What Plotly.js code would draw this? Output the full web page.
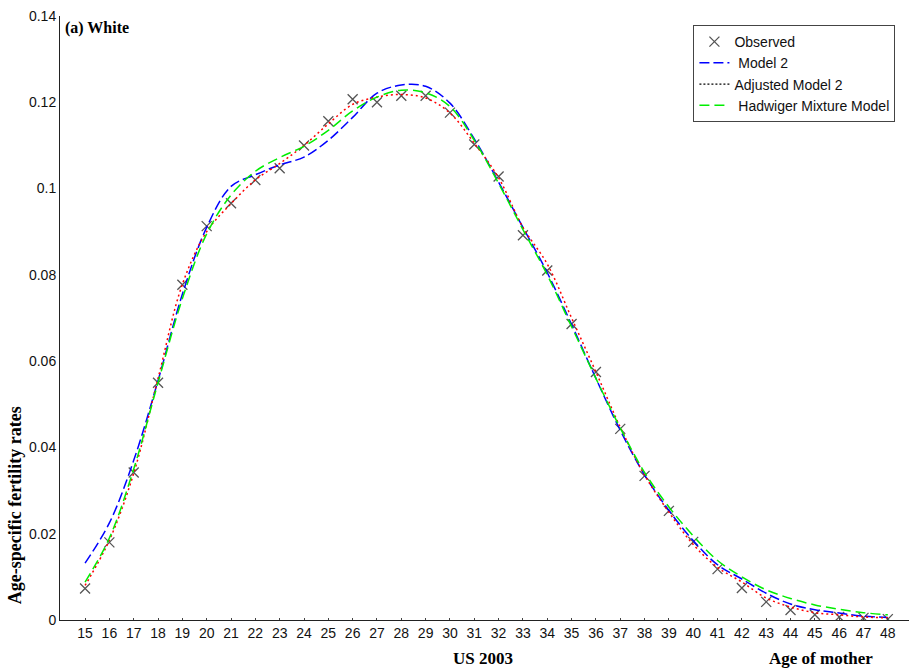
<!DOCTYPE html>
<html>
<head>
<meta charset="utf-8">
<script src="https://cdn.plot.ly/plotly-3.0.1.min.js"></script>
<style>html,body{margin:0;padding:0;background:#fff;}#chart{width:909px;height:670px;}</style>
</head>
<body>
<div id="chart"></div>
<script>
// Ages (x axis)
const ages = [15,16,17,18,19,20,21,22,23,24,25,26,27,28,29,30,31,32,33,34,35,36,37,38,39,40,41,42,43,44,45,46,47,48];
// Observed age-specific fertility rates, US 2003, White
const observed = [0.0073,0.0180,0.0342,0.0550,0.0777,0.0913,0.0966,0.1020,0.1047,0.1100,0.1156,0.1207,0.1200,0.1215,0.1215,0.1176,0.1102,0.1028,0.0892,0.0810,0.0686,0.0575,0.0443,0.0334,0.0253,0.0181,0.0118,0.0074,0.0042,0.0023,0.0012,0.0007,0.0005,0.0002];
// Model 2
const model2 = [0.0132,0.0225,0.0370,0.0555,0.0755,0.0910,0.1005,0.1032,0.1055,0.1073,0.1112,0.1165,0.1221,0.1240,0.1237,0.1198,0.1115,0.1015,0.0910,0.0805,0.0685,0.0560,0.0440,0.0336,0.0254,0.0184,0.0128,0.0095,0.0062,0.0037,0.0024,0.0016,0.0009,0.0006];
// Adjusted Model 2
const adjModel2 = [0.0080,0.0185,0.0340,0.0560,0.0778,0.0900,0.0965,0.1020,0.1058,0.1100,0.1150,0.1195,0.1212,0.1218,0.1210,0.1175,0.1105,0.1025,0.0910,0.0825,0.0700,0.0575,0.0447,0.0336,0.0250,0.0175,0.0122,0.0088,0.0051,0.0030,0.0017,0.0012,0.0007,0.0005];
// Hadwiger Mixture Model
const hadwiger = [0.0088,0.0190,0.0350,0.0550,0.0745,0.0895,0.0985,0.1040,0.1072,0.1098,0.1135,0.1180,0.1212,0.1228,0.1222,0.1190,0.1112,0.1012,0.0905,0.0800,0.0680,0.0560,0.0445,0.0342,0.0262,0.0195,0.0138,0.0100,0.0070,0.0050,0.0035,0.0025,0.0017,0.0012];
// Tick labels
const yTickVals = [0,0.02,0.04,0.06,0.08,0.1,0.12,0.14];
const yTickText = ["0","0.02","0.04","0.06","0.08","0.1","0.12","0.14"];
const legendNames = ["Observed"," Model 2","Adjusted Model 2"," Hadwiger Mixture Model"];

const traces = [
  {x: ages, y: observed, type:'scatter', mode:'markers', name: legendNames[0],
   marker:{symbol:'x-thin-open', size:10, color:'#555555', line:{width:1.3, color:'#555555'}}},
  {x: ages, y: model2, type:'scatter', mode:'lines', name: legendNames[1],
   line:{color:'#0000ff', width:1.5, dash:'10px,4px', shape:'spline'}},
  {x: ages, y: adjModel2, type:'scatter', mode:'lines', name: legendNames[2], showlegend:false,
   line:{color:'#ff0000', width:1.5, dash:'2px,3px', shape:'spline'}},
  {x: [null], y: [null], type:'scatter', mode:'lines', name: legendNames[2],
   line:{color:'#000000', width:1.2, dash:'2px,2px'}},
  {x: ages, y: hadwiger, type:'scatter', mode:'lines', name: legendNames[3],
   line:{color:'#00ee00', width:1.5, dash:'10px,5px', shape:'spline'}}
];

const layout = {
  width: 909, height: 670,
  margin: {l:60, r:0, t:16, b:50},
  paper_bgcolor:'#ffffff', plot_bgcolor:'#ffffff',
  showlegend: true,
  legend: {x: 0.984, xanchor:'right', y: 0.985, yanchor:'top',
    bordercolor:'#444', borderwidth:1, bgcolor:'#ffffff',
    font:{family:'Liberation Sans, Arial, sans-serif', size:14, color:'#111'},
    tracegroupgap:0, itemwidth:30},
  xaxis: {range:[13.97, 48.87], tickvals: ages, ticktext: ages.map(String),
    showgrid:false, zeroline:false, showline:true, linecolor:'#222', linewidth:1,
    ticks:'inside', ticklen:2, tickcolor:'#444',
    tickfont:{family:'Liberation Sans, Arial, sans-serif', size:14, color:'#111'}},
  yaxis: {range:[0,0.14], tickvals:yTickVals, ticktext:yTickText,
    showgrid:false, zeroline:false, showline:true, linecolor:'#222', linewidth:1,
    ticks:'', tickfont:{family:'Liberation Sans, Arial, sans-serif', size:14, color:'#111'}},
  annotations: [
    {text:'<b>(a) White</b>', xref:'paper', yref:'paper', x:0.004, y:0.98, xanchor:'left', yanchor:'middle', showarrow:false,
     font:{family:'Liberation Serif, Times New Roman, serif', size:16, color:'#000'}},
    {text:'<b>Age-specific fertility rates</b>', xref:'paper', yref:'paper', x:-0.053, y:0.19, textangle:-90, xanchor:'center', yanchor:'middle', showarrow:false,
     font:{family:'Liberation Serif, Times New Roman, serif', size:18, color:'#000'}},
    {text:'<b>US 2003</b>', xref:'paper', yref:'paper', x:0.498, y:-0.063, xanchor:'center', yanchor:'middle', showarrow:false,
     font:{family:'Liberation Serif, Times New Roman, serif', size:17, color:'#000'}},
    {text:'<b>Age of mother</b>', xref:'paper', yref:'paper', x:0.896, y:-0.063, xanchor:'center', yanchor:'middle', showarrow:false,
     font:{family:'Liberation Serif, Times New Roman, serif', size:17, color:'#000'}}
  ]
};
Plotly.newPlot('chart', traces, layout, {displayModeBar:false, staticPlot:true});
</script>
</body>
</html>
